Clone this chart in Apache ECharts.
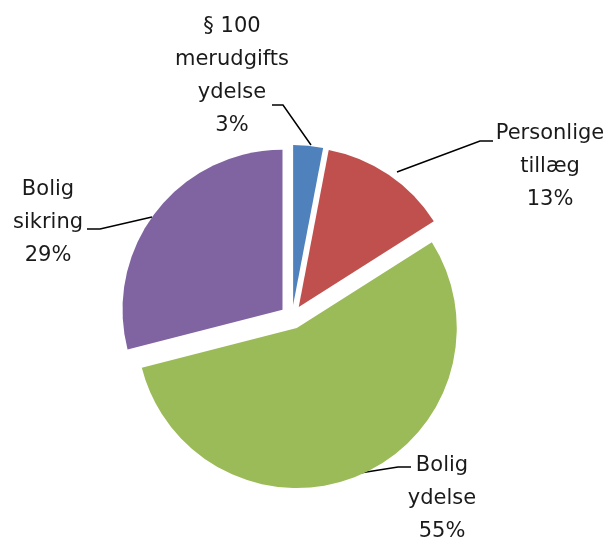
<!DOCTYPE html>
<html>
<head>
<meta charset="utf-8">
<script src="https://cdn.jsdelivr.net/npm/echarts@6/dist/echarts.min.js"></script>
<style>
  html, body { margin: 0; padding: 0; background: #fff; }
  #pie { width: 611px; height: 539px; }
</style>
</head>
<body>
<div id="pie"></div>
<script>
  // categories + shares (percent), clockwise from 12 o'clock
  let names = ['§ 100\nmerudgifts\nydelse', 'Personlige\ntillæg', 'Bolig\nydelse', 'Bolig\nsikring'];
  let values = [3, 13, 55, 29];
  let colors = ['#4F81BD', '#C0504D', '#9BBB59', '#8064A2'];

  // label placement + leader lines, Excel style (layout only)
  let labelSpots = [
    { x: 232, y: 76,  line: [[311, 145], [283, 105], [272, 105]] },
    { x: 550, y: 167, line: [[397, 172], [480, 141], [493, 141]] },
    { x: 442, y: 499, line: [[360, 473], [398, 467], [411, 467]] },
    { x: 48,  y: 223, line: [[152, 217], [100, 229], [87, 229]] }
  ];

  let chart = echarts.init(document.getElementById('pie'));

  let total = values.reduce((a, b) => a + b, 0);

  let pieData = names.map((n, i) => ({
    name: n,
    value: values[i],
    selected: true,
    itemStyle: { color: colors[i] }
  }));

  let labelGraphics = [];
  names.forEach((n, i) => {
    let s = labelSpots[i];
    labelGraphics.push({
      type: 'polyline',
      silent: true,
      shape: { points: s.line },
      style: { stroke: '#000', lineWidth: 1.5, fill: null }
    });
    labelGraphics.push({
      type: 'text',
      silent: true,
      x: s.x,
      y: s.y,
      style: {
        text: n + '\n' + Math.round(values[i] / total * 100) + '%',
        fontFamily: 'DejaVu Sans',
        fontSize: 21,
        lineHeight: 33,
        fill: '#1a1a1a',
        align: 'center',
        verticalAlign: 'middle'
      }
    });
  });

  chart.setOption({
    animation: false,
    graphic: labelGraphics,
    series: [
      {
        type: 'pie',
        center: [292, 317],
        radius: 160,
        startAngle: 90,
        clockwise: true,
        selectedMode: 'multiple',
        selectedOffset: 12,
        emphasis: { disabled: true },
        itemStyle: { borderWidth: 0 },
        label: { show: false },
        labelLine: { show: false },
        data: pieData
      }
    ]
  });
</script>
</body>
</html>
